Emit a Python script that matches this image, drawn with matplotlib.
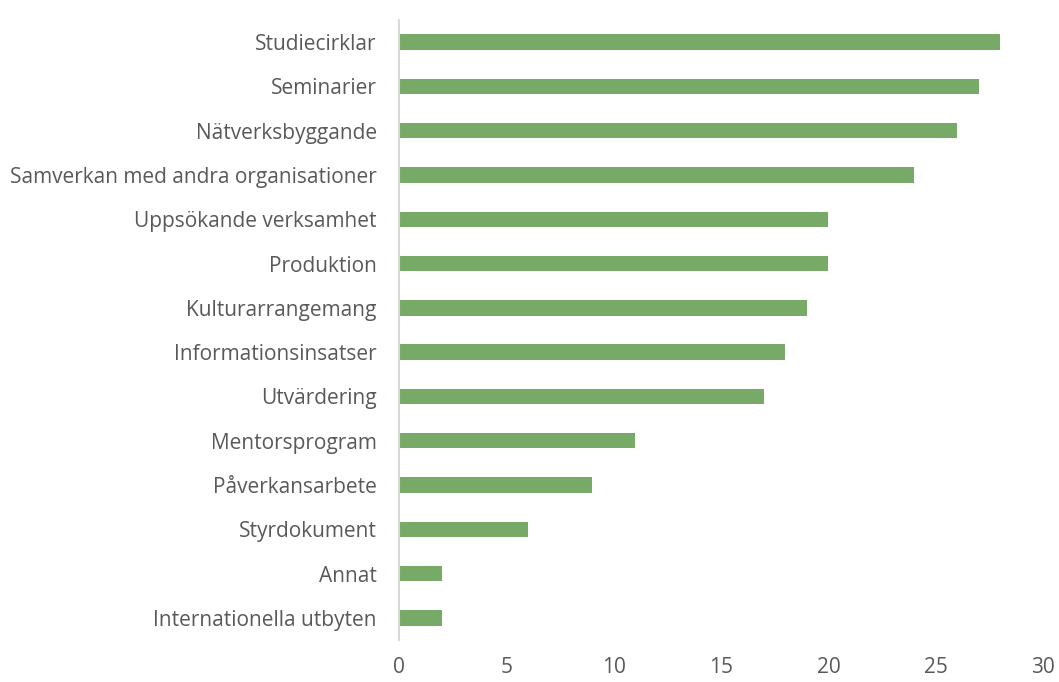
import matplotlib
matplotlib.use("Agg")
import matplotlib.pyplot as plt

# categories top to bottom
categories = ["Studiecirklar", "Seminarier", "Nätverksbyggande",
              "Samverkan med andra organisationer", "Uppsökande verksamhet",
              "Produktion", "Kulturarrangemang", "Informationsinsatser",
              "Utvärdering", "Mentorsprogram", "Påverkansarbete",
              "Styrdokument", "Annat", "Internationella utbyten"]
values = [28, 27, 26, 24, 20, 20, 19, 18, 17, 11, 9, 6, 2, 2]
xticks = [0, 5, 10, 15, 20, 25, 30]

plt.rcParams['font.family'] = ['Open Sans', 'DejaVu Sans']

fig = plt.figure(figsize=(10.59, 6.82), dpi=100)
ax = fig.add_axes([0.3768, 0.0616, 0.6082, 0.9091])

ypos = list(range(len(categories)))
ax.barh(ypos, values, height=0.35, color="#77AA66")
ax.set_ylim(len(categories) - 0.5, -0.5)
ax.set_xlim(0, 30)
ax.set_yticks(ypos)
ax.set_yticklabels(categories, fontsize=15, color="#595959")
ax.set_xticks(xticks)
ax.set_xticklabels([str(t) for t in xticks], fontsize=15, color="#595959")
ax.tick_params(axis="both", length=0)
ax.tick_params(axis="y", pad=16)
ax.tick_params(axis="x", pad=12)

for s in ["top", "right", "bottom"]:
    ax.spines[s].set_visible(False)
ax.spines["left"].set_color("#D9D9D9")
ax.spines["left"].set_linewidth(1.5)

fig.savefig("out.png", dpi=100)
